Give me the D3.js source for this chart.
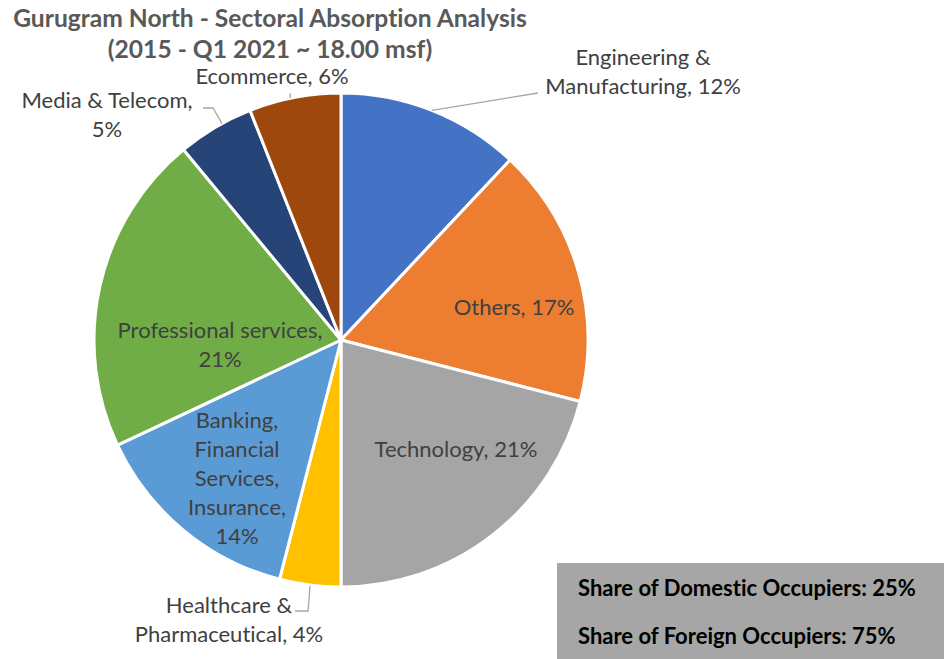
<!DOCTYPE html>
<html>
<head>
<meta charset="utf-8">
<script src="https://cdn.jsdelivr.net/npm/d3@7"></script>
<style>
  html, body { margin: 0; padding: 0; background: #fff; }
  svg { display: block; font-family: Lato, "Open Sans", sans-serif; font-variant-ligatures: none; }
</style>
</head>
<body>
<svg id="chart" width="944" height="659"></svg>
<script>
// Sector shares of absorption, clockwise from 12 o'clock
const sectors = [
  "Engineering & Manufacturing",
  "Others",
  "Technology",
  "Healthcare & Pharmaceutical",
  "Banking, Financial Services, Insurance",
  "Professional services",
  "Media & Telecom",
  "Ecommerce"
];
const shares = [12, 17, 21, 4, 14, 21, 5, 6];
const sliceColors = ["#4472C4", "#ED7D31", "#A5A5A5", "#FFC000", "#5B9BD5", "#70AD47", "#264478", "#9E480E"];

// Label text lines for each sector
const labelLines = [
  ["Engineering &", "Manufacturing, 12%"],
  ["Others, 17%"],
  ["Technology, 21%"],
  ["Healthcare &", "Pharmaceutical, 4%"],
  ["Banking,", "Financial", "Services,", "Insurance,", "14%"],
  ["Professional services,", "21%"],
  ["Media & Telecom,", "5%"],
  ["Ecommerce, 6%"]
];

const titleLines = ["Gurugram North - Sectoral Absorption Analysis", "(2015 - Q1 2021 ~ 18.00 msf)"];
const occupierNotes = ["Share of Domestic Occupiers: 25%", "Share of Foreign Occupiers: 75%"];

const svg = d3.select("#chart");
const cx = 341, cy = 340, radius = 247;
const lineH = 29;

// Label anchor (baseline of first line, centred) relative to pie centre, per sector
const labelOffsets = [
  { x: 302, y: -275 },
  { x: 173, y: -25 },
  { x: 115, y: 117 },
  { x: -112, y: 273 },
  { x: -104, y: 88 },
  { x: -121, y: -2 },
  { x: -234, y: -232 },
  { x: -69, y: -256 }
];

const pie = d3.pie().sort(null).value(d => d)(shares);
const arc = d3.arc().innerRadius(0).outerRadius(radius);

const g = svg.append("g").attr("transform", `translate(${cx},${cy})`);

g.selectAll("path.slice")
  .data(pie)
  .join("path")
  .attr("class", "slice")
  .attr("d", arc)
  .attr("fill", (d, i) => sliceColors[i])
  .attr("stroke", "#fff")
  .attr("stroke-width", 3)
  .attr("stroke-linejoin", "round");

// Leader lines for labels placed outside the pie
const pointOnRim = (d, frac) => {
  const a = d.startAngle + (d.endAngle - d.startAngle) * frac;
  return [Math.sin(a) * radius, -Math.cos(a) * radius];
};
const leaders = [
  { i: 0, path: d => { const p = pointOnRim(d, 0.5); return [p, [197, -247]]; } },
  { i: 3, path: d => { const p = pointOnRim(d, 0.5); return [[p[0], p[1] + 1], [p[0] - 2, 271], [p[0] - 15, 271]]; } },
  { i: 6, path: d => { const p = pointOnRim(d, 0.6); return [p, [-128, -232], [-138, -232]]; } },
  { i: 7, path: d => { const p = pointOnRim(d, 0.45); return [p, [p[0], p[1] - 5]]; } }
];
g.selectAll("path.leader")
  .data(leaders)
  .join("path")
  .attr("class", "leader")
  .attr("d", l => d3.line()(l.path(pie[l.i])))
  .attr("fill", "none")
  .attr("stroke", "#A6A6A6")
  .attr("stroke-width", 1.3);

// Slice labels
const labels = g.selectAll("text.label")
  .data(pie)
  .join("text")
  .attr("class", "label")
  .attr("text-anchor", "middle")
  .attr("font-size", 22)
  .attr("fill", "#404040")
  .attr("transform", (d, i) => `translate(${labelOffsets[i].x},${labelOffsets[i].y})`);
labels.each(function(d, i) {
  d3.select(this).selectAll("tspan")
    .data(labelLines[i])
    .join("tspan")
    .attr("x", 0)
    .attr("y", (t, j) => j * lineH)
    .text(t => t);
});

// Title
svg.append("text")
  .attr("text-anchor", "middle")
  .attr("font-weight", "bold")
  .attr("font-size", 24.6)
  .attr("fill", "#595959")
  .selectAll("tspan")
  .data(titleLines)
  .join("tspan")
  .attr("x", 270)
  .attr("y", (t, j) => 27 + j * 31)
  .text(t => t);

// Occupier share note box
svg.append("rect")
  .attr("x", 557).attr("y", 563)
  .attr("width", 387).attr("height", 96)
  .attr("fill", "#A6A6A6");
svg.append("text")
  .attr("font-weight", "bold")
  .attr("font-size", 22)
  .attr("fill", "#000")
  .selectAll("tspan")
  .data(occupierNotes)
  .join("tspan")
  .attr("x", 578)
  .attr("y", (t, j) => 596 + j * 48)
  .text(t => t);
</script>
</body>
</html>
